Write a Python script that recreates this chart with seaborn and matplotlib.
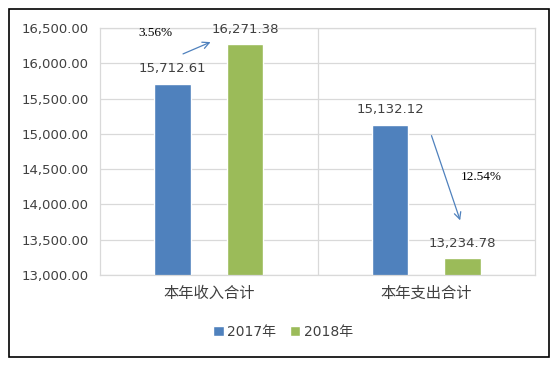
import matplotlib
matplotlib.use("Agg")
import matplotlib.pyplot as plt
import seaborn as sns
import pandas as pd
from matplotlib.patches import Rectangle

categories = ["本年收入合计", "本年支出合计"]
years = ["2017年", "2018年"]
values_2017 = [15712.61, 15132.12]
values_2018 = [16271.38, 13234.78]
changes = ["3.56%", "12.54%"]
y_ticks = [13000, 13500, 14000, 14500, 15000, 15500, 16000, 16500]

df = pd.DataFrame({
    "cat": categories * 2,
    "year": [years[0]] * 2 + [years[1]] * 2,
    "val": values_2017 + values_2018,
})

sns.set_theme(style="white")
plt.rcParams["font.family"] = ["DejaVu Sans", "Noto Sans CJK SC"]

colors = {"2017年": "#4F81BD", "2018年": "#9BBB59"}
fig = plt.figure(figsize=(5.58, 3.65), dpi=100)
ax = fig.add_axes([100 / 558, 1 - 275 / 365, 435 / 558, 247 / 365])
sns.barplot(data=df, x="cat", y="val", hue="year", palette=colors, ax=ax,
            width=0.667, gap=0.5, saturation=1, legend=True)

ax.set_ylim(13000, 16500)
ax.set_xlim(-0.5, 1.5)
ax.set_yticks(y_ticks)
ax.set_yticklabels([f"{v:,.2f}" for v in y_ticks], fontsize=9.5, color="#404040")
ax.tick_params(axis="x", labelsize=11, colors="#404040", length=0, pad=8)
ax.tick_params(axis="y", length=0, pad=8)
ax.set_xlabel("")
ax.set_ylabel("")
ax.grid(axis="y", color="#D9D9D9", linewidth=0.9)
for xv in [0.5]:
    ax.axvline(xv, color="#D9D9D9", linewidth=0.9)
ax.set_axisbelow(True)
for s in ax.spines.values():
    s.set_color("#D9D9D9")
    s.set_linewidth(0.9)

# value labels
for cont in ax.containers:
    ax.bar_label(cont, labels=[f"{v:,.2f}" for v in cont.datavalues],
                 padding=6, fontsize=9.5, color="#404040")

# arrows and change labels
ax.annotate("", xy=(0.02, 16500 - (41 - 28) / 247 * 3500),
            xytext=(-0.13, 16500 - (55 - 28) / 247 * 3500),
            arrowprops=dict(arrowstyle="->", color="#4F81BD", lw=0.9))
ax.text(-0.245, 16500 - (33 - 28) / 247 * 3500, changes[0], fontsize=9.5,
        family="Liberation Serif", ha="center", va="center", color="black")
ax.annotate("", xy=(1.16, 16500 - (223 - 28) / 247 * 3500),
            xytext=(1.02, 16500 - (133 - 28) / 247 * 3500),
            arrowprops=dict(arrowstyle="->", color="#4F81BD", lw=0.9))
ax.text(1.255, 16500 - (177 - 28) / 247 * 3500, changes[1], fontsize=9.5,
        family="Liberation Serif", ha="center", va="center", color="black")

leg = ax.legend(loc="center", bbox_to_anchor=(283 / 558, 1 - 332 / 365),
                bbox_transform=fig.transFigure, ncol=2, frameon=False,
                fontsize=10, handlelength=0.75, handleheight=0.75,
                handletextpad=0.25, columnspacing=1.0)
for t in leg.get_texts():
    t.set_color("#404040")

fig.patches.append(Rectangle((9 / 558, 1 - 357 / 365), 540 / 558, 348 / 365,
                             transform=fig.transFigure, fill=False,
                             edgecolor="black", linewidth=1.2))

fig.savefig("out.png", dpi=100, facecolor="white")
